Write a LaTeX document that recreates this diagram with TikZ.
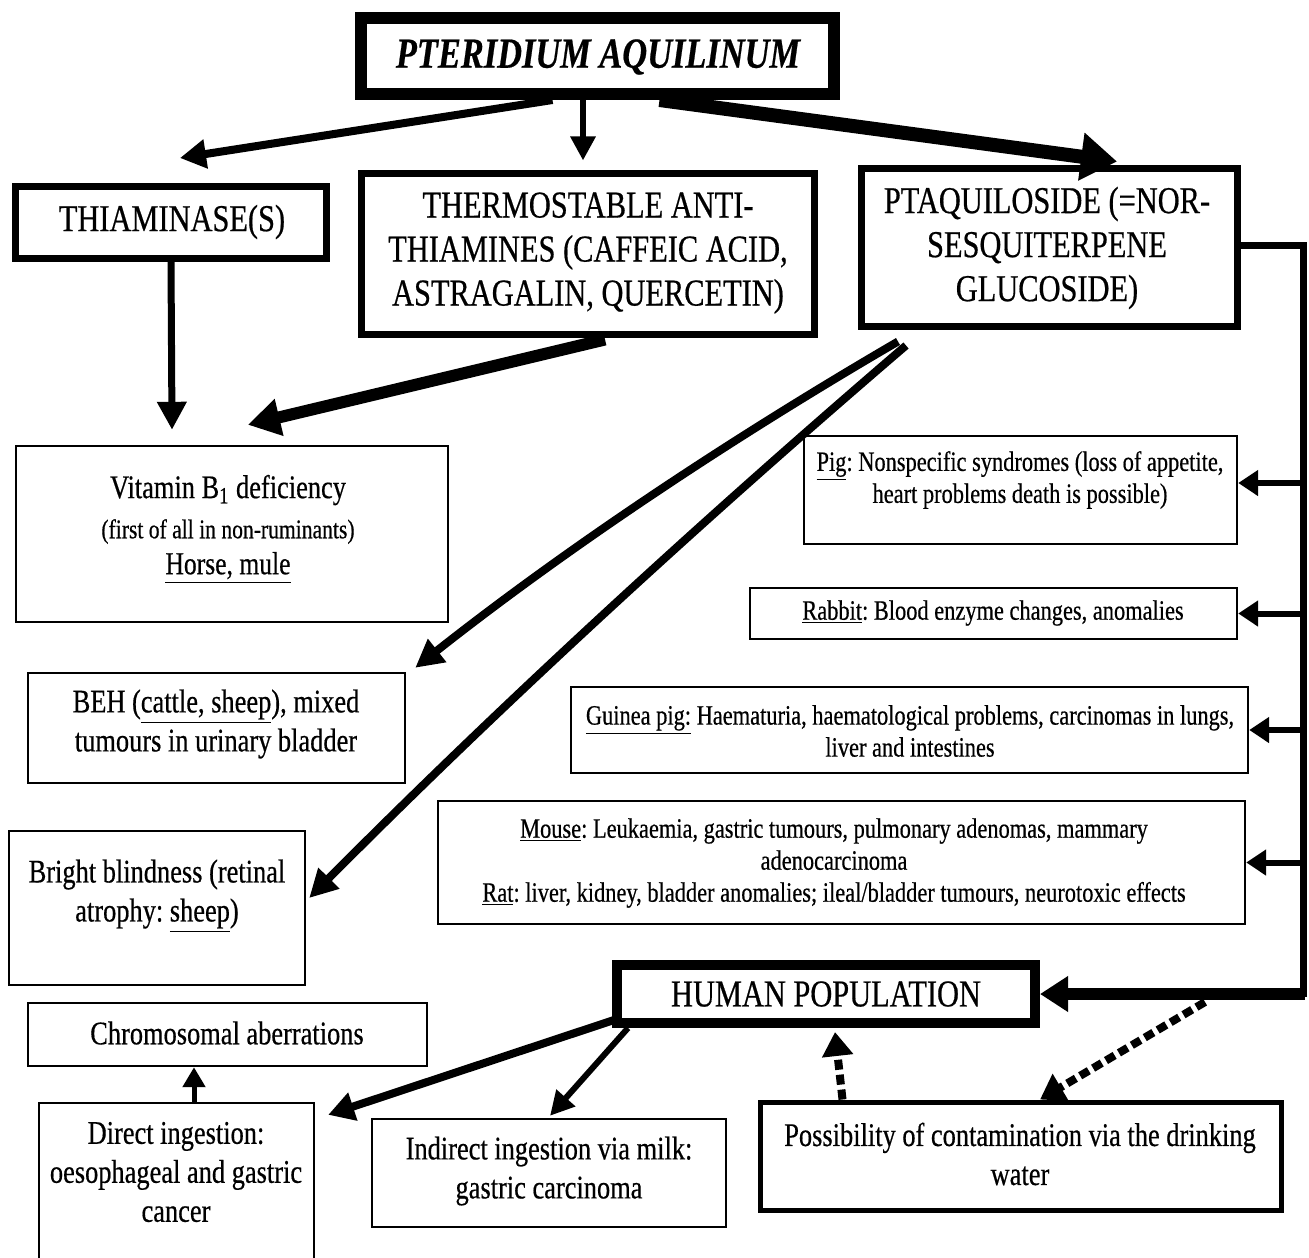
\documentclass[tikz,border=0pt]{standalone}
\usepackage{fontspec}
\setmainfont[FakeStretch=0.8,FakeBold=0.5]{Liberation Serif}
\usetikzlibrary{arrows.meta,fit,calc}
\frenchspacing

\begin{document}
\begin{tikzpicture}[x=0.5pt,y=-0.5pt,
  heavybox/.style={draw, line width=3.5pt, inner sep=0pt},
  thinbox/.style={draw, line width=1.2pt, inner sep=0pt},
  txt/.style={align=center, inner sep=0pt},
  capsfont/.style={font=\fontsize{19}{22}\selectfont},
  bodyfont/.style={font=\fontsize{16.5}{19.5}\selectfont},
  notefont/.style={font=\fontsize{14}{16}\selectfont},
  link/.style={line width=#1, line join=miter},
  head/.style 2 args={-{Triangle[length=#1pt,width=#2pt]}},
  branch/.style={link=3pt, head={10}{12.5}},
  hint/.style={line width=4pt, dash pattern=on 5pt off 2.5pt, head={12}{15}}
]
\fill[white] (0,0) rectangle (1309,1257);
\useasboundingbox (0,0) rectangle (1309,1257);

% ---- top level ----
\node[draw, line width=6pt, inner sep=0pt, fit={(361,18) (834,94)}] (title) {};
\node[txt, font=\fontsize{21.5}{24}\selectfont\bfseries\itshape] (titleT) at (598,57) {PTERIDIUM AQUILINUM};

\node[heavybox, fit={(15.5,186.5) (326.5,258.5)}] (thia) {};
\node[txt, capsfont] (thiaT) at (172,222) {THIAMINASE(S)};

\node[heavybox, fit={(361,174) (814,334)}] (thermo) {};
\node[txt, capsfont] (thermoT) at (588,253) {THERMOSTABLE ANTI-\\THIAMINES (CAFFEIC ACID,\\ASTRAGALIN, QUERCETIN)};

\node[heavybox, fit={(861,169) (1237,326)}] (ptaq) {};
\node[txt, capsfont] (ptaqT) at (1047,248) {PTAQUILOSIDE (=NOR-\\SESQUITERPENE\\GLUCOSIDE)};

% ---- left column ----
\node[thinbox, fit={(16,446) (448,622)}] (vit) {};
\node[txt] (vitT) at (228,529) {{\fontsize{16.5}{19}\selectfont Vitamin B\textsubscript{1} deficiency}\\[6pt]
  {\fontsize{13.5}{16}\selectfont (first of all in non-ruminants)}\\[3pt]
  {\fontsize{16}{18}\selectfont\underline{Horse, mule}}};

\node[thinbox, fit={(28,673) (405,783)}] (beh) {};
\node[txt, bodyfont] (behT) at (216,724) {BEH (\underline{cattle, sheep}), mixed\\tumours in urinary bladder};

\node[thinbox, fit={(9,831) (305,985)}] (bright) {};
\node[txt, bodyfont] (brightT) at (157,896) {Bright blindness (retinal\\atrophy: \underline{sheep})};

\node[thinbox, fit={(28,1003) (427,1066)}] (chromo) {};
\node[txt, bodyfont] (chromoT) at (227,1033) {Chromosomal aberrations};

\node[thinbox, fit={(39,1103) (314,1275)}] (direct) {};
\node[txt, bodyfont] (directT) at (176,1172) {Direct ingestion:\\oesophageal and gastric\\cancer};

\node[thinbox, fit={(372,1119) (726,1227)}] (indirect) {};
\node[txt, bodyfont] (indirectT) at (549,1171) {Indirect ingestion via milk:\\gastric carcinoma};

% ---- right column ----
\node[thinbox, fit={(804,436) (1237,544)}] (pig) {};
\node[txt, notefont] (pigT) at (1020,480) {\underline{Pig}: Nonspecific syndromes (loss of appetite,\\heart problems death is possible)};

\node[thinbox, fit={(750,588) (1237,639)}] (rabbit) {};
\node[txt, notefont] (rabbitT) at (993,613) {\underline{Rabbit}: Blood enzyme changes, anomalies};

\node[thinbox, fit={(571,687) (1248,773)}] (guinea) {};
\node[txt, notefont] (guineaT) at (910,731) {\underline{Guinea pig:} Haematuria, haematological problems, carcinomas in lungs,\\liver and intestines};

\node[thinbox, fit={(438,801) (1245,924)}] (mouse) {};
\node[txt, notefont] (mouseT) at (834,863) {\underline{Mouse}: Leukaemia, gastric tumours, pulmonary adenomas, mammary\\adenocarcinoma\\\underline{Rat}: liver, kidney, bladder anomalies; ileal/bladder tumours, neurotoxic effects};

% ---- human level ----
\node[draw, line width=5pt, inner sep=0pt, fit={(617,965) (1035,1023)}] (human) {};
\node[txt, capsfont] (humanT) at (826,994) {HUMAN POPULATION};

\node[draw, line width=2.5pt, inner sep=0pt, fit={(760,1102) (1281,1210)}] (water) {};
\node[txt, bodyfont] (waterT) at (1020,1154) {Possibility of contamination via the drinking\\water};

% ---- connectors from the fern ----
\draw[link=4pt, head={13}{14}] ($(title.south)+(-45,0)$) -- ($(thia.north)+(9,-25)$);
\draw[link=3pt, head={12}{12}] ($(title.south)+(-14.5,0)$) -- ($(thermo.north)+(-4.5,-10)$);
\draw[link=7pt, head={18}{23}] ($(title.south)+(62,0)$) -- ($(ptaq.north)+(68,-4)$);

\draw[link=3.5pt, head={14}{14}] (thia.south) -- ($(vit.north)+(-60,-15)$);
\draw[link=6pt, head={16}{18}] ($(thermo.south)+(17.5,2)$) -- ($(vit.north)+(16,-20)$);

\draw[link=4pt, head={14}{14}] ($(ptaq.south)+(-151,12)$)
  .. controls (729,440) and (567,548) .. ($(beh.north east)+(9,-4)$);
\draw[link=4pt, head={14}{14}] ($(ptaq.south)+(-143,16)$)
  .. controls (700,522) and (500,706) .. ($(bright.east)+(3,-10)$);

% ---- rail feeding the animal models and humans ----
\coordinate (railtop) at (1303,245);
\coordinate (railbot) at (railtop |- human.east);
\draw[link=3.5pt] ($(ptaq.east)+(0,-2.5)$) -- (railtop) -- ($(railbot)+(0,3)$);
\draw[link=6pt, head={14}{17}] ($(railbot)+(1.75,0)$) -- (human.east);

\coordinate (pigin) at ($(pig.east)+(0,-7)$);
\draw[branch] (railtop |- pigin) -- (pigin);
\draw[branch] (railtop |- rabbit.east) -- (rabbit.east);
\draw[branch] (railtop |- guinea.east) -- (guinea.east);
\draw[branch] (railtop |- mouse.east) -- (mouse.east);

% ---- human exposure routes ----
\draw[link=4pt, head={13}{14}] ($(human.south west)+(2,-8)$) -- ($(direct.north east)+(13,13)$);
\draw[link=3pt, head={12}{12}] ($(human.south west)+(16,0)$) -- ($(indirect.north)+(1,-2)$);
\draw[link=2.5pt, head={10}{11}] ($(direct.north)+(17.5,0)$) -- ($(chromo.south)+(-33.5,0)$);

\draw[hint] ($(water.north)+(-178,0)$) -- ($(human.south)+(9,4)$);
\coordinate (wsrc) at (1205,1002);
\draw[hint] (wsrc) -- ($(water.north)+(19.5,0)$);
\end{tikzpicture}
\end{document}
